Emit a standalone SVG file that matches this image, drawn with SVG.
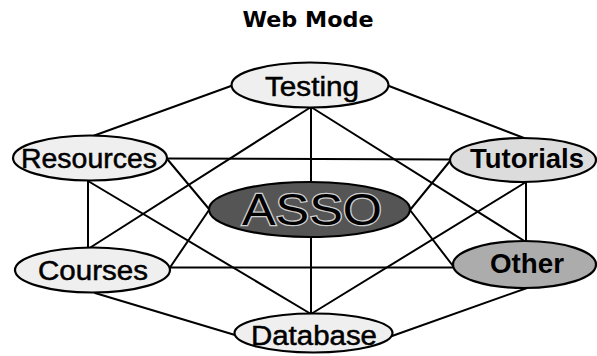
<svg xmlns="http://www.w3.org/2000/svg" width="597" height="356" viewBox="0 0 597 356">
<style>
.edge{stroke:#000;stroke-width:2;fill:none;stroke-linecap:round}
.node ellipse{stroke:#000;stroke-width:2.2}
.lbl{font-family:"Liberation Sans",Arial,sans-serif;font-size:27px;fill:#000;stroke:#000;stroke-width:0.5;text-anchor:middle}
.bold{font-weight:bold;stroke-width:0}
.light{fill:#efefef}
.mid{fill:#dcdcdc}
.dark{fill:#acacac}
.hub{fill:#555}
.title{font-family:"DejaVu Sans",Verdana,sans-serif;font-weight:bold;font-size:22px;fill:#000;text-anchor:middle}
</style>
<rect width="597" height="356" fill="#fff"/>
<text class="title" x="308" y="27" textLength="131" lengthAdjust="spacingAndGlyphs">Web Mode</text>
<g id="connectors">
<line class="edge" x1="231" y1="86" x2="93" y2="136"/>
<line class="edge" x1="389" y1="86" x2="524" y2="138"/>
<line class="edge" x1="311" y1="107" x2="88" y2="249"/>
<line class="edge" x1="311" y1="107" x2="526" y2="242"/>
<line class="edge" x1="311" y1="107" x2="311" y2="183"/>
<line class="edge" x1="167" y1="158.5" x2="450" y2="159.5"/>
<line class="edge" x1="88" y1="181" x2="88" y2="249"/>
<line class="edge" x1="88" y1="181" x2="311" y2="314"/>
<line class="edge" x1="168" y1="160" x2="209" y2="209"/>
<line class="edge" x1="526" y1="182" x2="526" y2="242"/>
<line class="edge" x1="526" y1="182" x2="311" y2="314"/>
<line class="edge" x1="410" y1="210" x2="450" y2="161"/>
<line class="edge" x1="170" y1="267.5" x2="453" y2="267.5"/>
<line class="edge" x1="95" y1="293" x2="235" y2="335"/>
<line class="edge" x1="170" y1="267.5" x2="209" y2="210"/>
<line class="edge" x1="527" y1="288" x2="392" y2="336"/>
<line class="edge" x1="410" y1="210" x2="453" y2="266"/>
<line class="edge" x1="311" y1="236" x2="311" y2="314"/>
</g>
<g id="node-testing" class="node">
<ellipse class="light" cx="310" cy="85" rx="78.5" ry="22.5"/>
<text class="lbl" x="312" y="96" textLength="94" lengthAdjust="spacingAndGlyphs">Testing</text>
</g>
<g id="node-resources" class="node">
<ellipse class="light" cx="90" cy="158" rx="77" ry="22.5"/>
<text class="lbl" x="89" y="168" textLength="136" lengthAdjust="spacingAndGlyphs">Resources</text>
</g>
<g id="node-tutorials" class="node">
<ellipse class="mid" cx="523" cy="160" rx="73" ry="22"/>
<text class="lbl bold" x="527" y="168" textLength="114" lengthAdjust="spacingAndGlyphs">Tutorials</text>
</g>
<g id="node-asso" class="node">
<ellipse class="hub" cx="309.5" cy="209.5" rx="100.5" ry="27.5"/>
<text class="lbl" x="312" y="225" style="font-size:45px;stroke:#cfcfcf;stroke-width:2.5;paint-order:stroke" textLength="140" lengthAdjust="spacingAndGlyphs">ASSO</text>
</g>
<g id="node-courses" class="node">
<ellipse class="light" cx="92.5" cy="270" rx="77.5" ry="22.5"/>
<text class="lbl" x="93" y="280" textLength="110" lengthAdjust="spacingAndGlyphs">Courses</text>
</g>
<g id="node-other" class="node">
<ellipse class="dark" cx="524.5" cy="264.5" rx="71.5" ry="23.5"/>
<text class="lbl bold" x="527" y="273" textLength="74" lengthAdjust="spacingAndGlyphs">Other</text>
</g>
<g id="node-database" class="node">
<ellipse class="light" cx="313.5" cy="333" rx="79" ry="19.5"/>
<text class="lbl" x="314" y="345" textLength="126" lengthAdjust="spacingAndGlyphs">Database</text>
</g>
</svg>
